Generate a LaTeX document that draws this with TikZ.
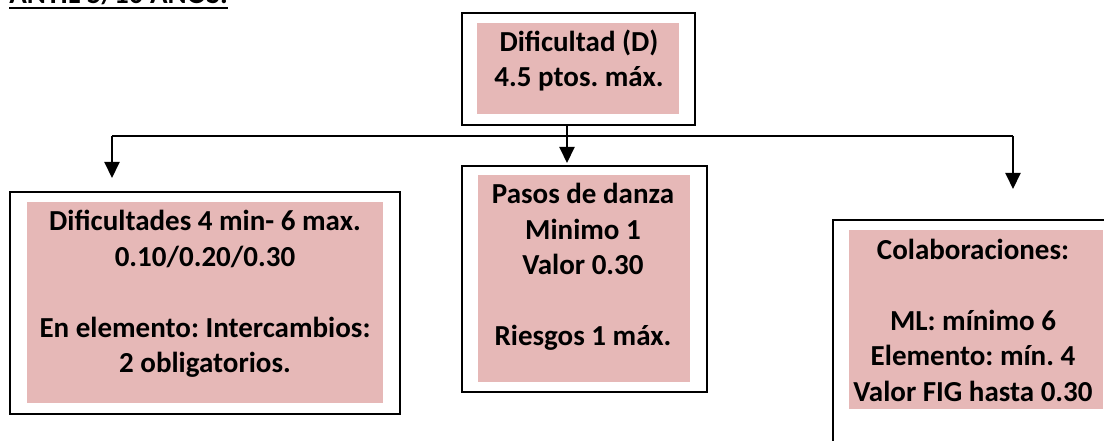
\documentclass[tikz,border=0pt]{standalone}
\usepackage{fontspec}
\setmainfont{Carlito}
\frenchspacing
\usetikzlibrary{arrows.meta}
\definecolor{pinkfill}{RGB}{230,184,183}
\begin{document}
\begin{tikzpicture}[x=1pt,y=-1pt,
  outer/.style={draw=black,line width=2pt,inner sep=0pt,anchor=north west},
  pinkbox/.style={fill=pinkfill,inner sep=0pt,anchor=north west},
  txt/.style={font=\fontsize{29}{35.5}\selectfont\bfseries,align=center,inner sep=0pt},
  conn/.style={line width=2pt},
  arr/.style={conn,-{Triangle[length=16pt,width=15pt]}}]
\useasboundingbox (0,0) rectangle (1104,441);
% title (cut off at top)
\node[txt,anchor=base east] (title) at (228,4) {ANTIL 5/10 AÑOS.};
\draw[line width=2pt] ([yshift=-3.7pt]title.base west) -- ([yshift=-3.7pt]title.base east);
% top box
\node[outer,minimum width=233pt,minimum height=112pt] (top) at (461,12) {};
\node[pinkbox,minimum width=202pt,minimum height=91pt] (toppink) at (477,23) {};
\node[txt] (toptxt) at (579,60.5) {Dificultad (D)\\4.5 ptos. máx.};
% left box
\node[outer,minimum width=390pt,minimum height=222pt] (left) at (9,191) {};
\node[pinkbox,minimum width=356pt,minimum height=201pt] (leftpink) at (27,202) {};
\node[txt] (lefttxt) at (205,294) {Dificultades 4 min- 6 max.\\0.10/0.20/0.30\\[35.5pt]En elemento: Intercambios:\\2 obligatorios.};
% middle box
\node[outer,minimum width=245pt,minimum height=226pt] (mid) at (461,165) {};
\node[pinkbox,minimum width=212pt,minimum height=207pt] (midpink) at (478,175) {};
\node[txt] (midtxt) at (583,267) {Pasos de danza\\Minimo 1\\Valor 0.30\\[35.5pt]Riesgos 1 máx.};
% right box (cut off at right and bottom)
\node[outer,minimum width=300pt,minimum height=260pt] (right) at (832,219) {};
\node[pinkbox,minimum width=254pt,minimum height=179pt] (rightpink) at (849,230) {};
\node[txt] (righttxt) at (973,320) {Colaboraciones:\\[35.5pt]ML: mínimo 6\\Elemento: mín. 4\\Valor FIG hasta 0.30};
% connectors
\coordinate (jl) at (112,136);
\coordinate (jr) at (1013,136);
\coordinate (tl) at (112,178);
\coordinate (tr) at (1013,189);
\coordinate (tm) at (567,163);
\draw[conn] (jl) -- (jr);
\draw[arr] (jl) -- (tl);
\draw[arr] (jr) -- (tr);
\draw[arr] (top.south -| tm) -- (tm);
\end{tikzpicture}
\end{document}
